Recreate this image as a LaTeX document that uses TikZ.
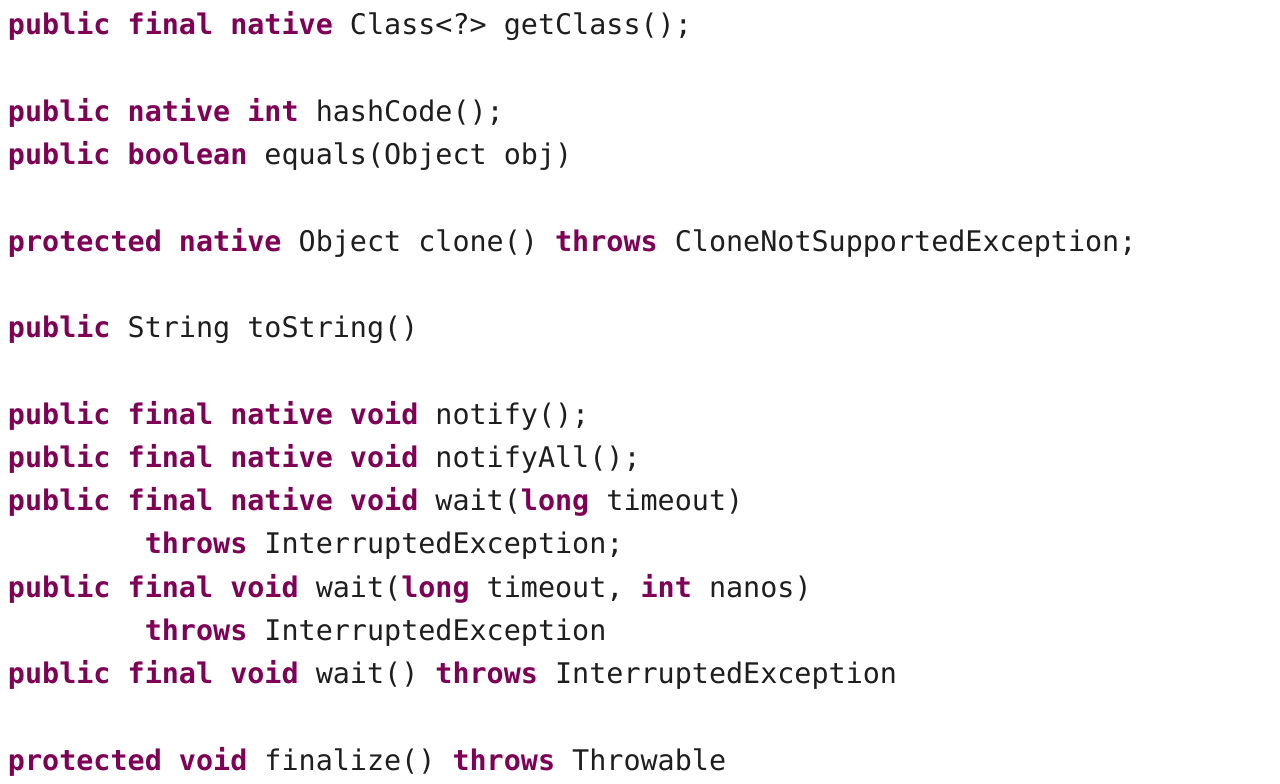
\documentclass[tikz,border=0pt]{standalone}
\usepackage{fontspec}
\setmonofont{DejaVu Sans Mono}
\definecolor{kwc}{HTML}{7F0055}
\definecolor{txc}{HTML}{1E1E1E}
\newcommand\kw[1]{\textcolor{kwc}{\bfseries #1}}
\tikzset{codeline/.style={anchor=base west,inner sep=0pt,outer sep=0pt,font=\ttfamily\fontsize{28.4}{30}\selectfont,text=txc}}
\begin{document}
\begin{tikzpicture}[x=1pt,y=1pt]
\fill[white] (0,0) rectangle (1280,784);
\useasboundingbox (0,0) rectangle (1280,784);
\def\bl#1{784-35-43.24*#1}
\node[codeline] (l0) at (8,{\bl{0}}) {\kw{public} \kw{final} \kw{native} Class<?> getClass();};
\node[codeline] (l2) at (8,{\bl{2}}) {\kw{public} \kw{native} \kw{int} hashCode();};
\node[codeline] (l3) at (8,{\bl{3}}) {\kw{public} \kw{boolean} equals(Object obj)};
\node[codeline] (l5) at (8,{\bl{5}}) {\kw{protected} \kw{native} Object clone() \kw{throws} CloneNotSupportedException;};
\node[codeline] (l7) at (8,{\bl{7}}) {\kw{public} String toString()};
\node[codeline] (l9) at (8,{\bl{9}}) {\kw{public} \kw{final} \kw{native} \kw{void} notify();};
\node[codeline] (l10) at (8,{\bl{10}}) {\kw{public} \kw{final} \kw{native} \kw{void} notifyAll();};
\node[codeline] (l11) at (8,{\bl{11}}) {\kw{public} \kw{final} \kw{native} \kw{void} wait(\kw{long} timeout)};
\node[codeline] (l12) at (144.8,{\bl{12}}) {\kw{throws} InterruptedException;};
\node[codeline] (l13) at (8,{\bl{13}}) {\kw{public} \kw{final} \kw{void} wait(\kw{long} timeout, \kw{int} nanos)};
\node[codeline] (l14) at (144.8,{\bl{14}}) {\kw{throws} InterruptedException};
\node[codeline] (l15) at (8,{\bl{15}}) {\kw{public} \kw{final} \kw{void} wait() \kw{throws} InterruptedException};
\node[codeline] (l17) at (8,{\bl{17}}) {\kw{protected} \kw{void} finalize() \kw{throws} Throwable};
\end{tikzpicture}
\end{document}
